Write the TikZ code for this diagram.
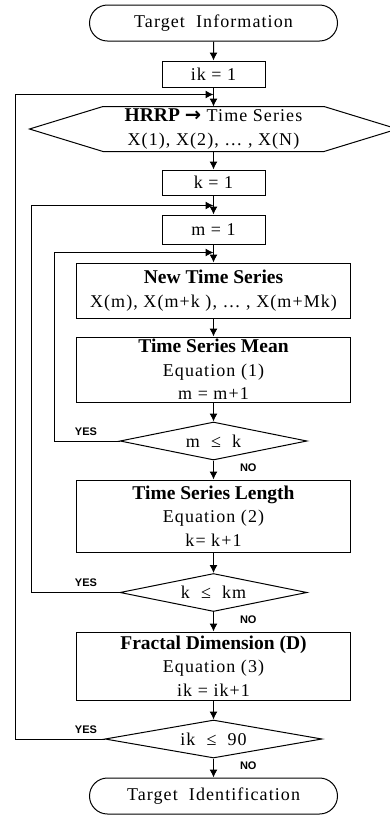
\documentclass[tikz,border=0pt]{standalone}
\usepackage{fontspec}
\setmainfont[LetterSpace=6,BoldFeatures={LetterSpace=0}]{Liberation Serif}
\newfontfamily\yesfont{Liberation Sans}
\newfontfamily\arrowfont{DejaVu Sans}
\usetikzlibrary{shapes.geometric, shapes.misc, positioning, arrows.meta}

\newcommand\hd[1]{{\fontsize{19.5}{23.5}\selectfont\bfseries #1}}

\tikzset{
  terminal/.style={draw, rounded rectangle, minimum width=248pt, minimum height=36pt, inner sep=0pt},
  smallbox/.style={draw, rectangle, minimum width=103pt, minimum height=27pt, inner sep=0pt},
  bigbox/.style={draw, rectangle, minimum width=274pt, align=center, inner sep=0pt},
  cond/.style={draw, diamond, aspect=4.9, minimum width=187pt, minimum height=38pt, inner sep=0pt},
  yesno/.style={font=\yesfont\bfseries\fontsize{11}{12}\selectfont, inner sep=0pt},
}

\begin{document}
\begin{tikzpicture}[x=1pt, y=1pt, node distance=50pt, on grid, line width=1pt,
    >={Latex[length=8pt,width=8pt]}, font=\fontsize{18}{23.5}\selectfont]
  \useasboundingbox (0,0) rectangle (390,-815);

  \node[terminal] (start) at (213.5,-23) {Target\ \ Information};
  \node[smallbox, minimum height=26pt] (ik1) [below=51pt of start] {ik = 1};
  \node[minimum width=220pt, minimum height=44pt, inner sep=0pt, align=center] (hrrp) [below=55pt of ik1]
    {\hd{HRRP {\arrowfont →}} Time Series\\X(1), X(2), … , X(N)};
  \node[smallbox, minimum height=25pt] (k1) [below=53.5pt of hrrp] {k = 1};
  \node[smallbox, minimum height=29pt] (m1) [below=47pt of k1] {m = 1};
  \node[bigbox, minimum height=55pt] (newts) [below=61pt of m1]
    {\hd{New Time Series}\\X(m), X(m+k ), … , X(m+Mk)};
  \node[bigbox, minimum height=65pt] (mean) [below=79pt of newts]
    {\hd{Time Series Mean}\\Equation (1)\\m = m+1};
  \node[cond] (mcond) [below=71.5pt of mean] {m\ \ ≤\ \ k};
  \node[bigbox, minimum height=72pt] (length) [below=75pt of mcond]
    {\hd{Time Series Length}\\Equation (2)\\k= k+1};
  \node[cond] (kcond) [below=76.5pt of length] {k\ \ ≤\ \ km};
  \node[bigbox, minimum height=68pt] (fractal) [below=73.5pt of kcond]
    {\hd{Fractal Dimension (D)}\\Equation (3)\\ik = ik+1};
  \node[cond, minimum width=217pt] (ikcond) [below=73pt of fractal] {ik\ \ ≤\ \ 90};
  \node[terminal] (stop) [below=57pt of ikcond] {Target\ \ Identification};

  % hexagon round the HRRP node
  \draw (hrrp.north west) -- (hrrp.north east) -- ([xshift=73.5pt]hrrp.east)
    -- (hrrp.south east) -- (hrrp.south west) -- ([xshift=-73.5pt]hrrp.west) -- cycle;

  \coordinate (j1) at ([yshift=12pt]hrrp.north);
  \coordinate (j2) at ([yshift=9pt]m1.north);
  \coordinate (j3) at ([yshift=10pt]newts.north);

  \path[->]
    (start) edge (ik1)
    (ik1) edge (hrrp)
    (hrrp) edge (k1)
    (k1) edge (m1)
    (m1) edge (newts)
    (newts) edge (mean)
    (mean) edge (mcond)
    (mcond) edge (length)
    (length) edge (kcond)
    (kcond) edge (fractal)
    (fractal) edge (ikcond)
    (ikcond) edge (stop);

  % loops back
  \draw[->] (mcond.west) -- ++(-65pt,0) |- (j3);
  \draw[->] (kcond.west) -- ++(-88pt,0) |- (j2);
  \draw[->] (ikcond.west) -- ++(-89pt,0) |- (j1);

  \node[yesno, anchor=south east] (yes1) at ([xshift=-22pt,yshift=5pt]mcond.west) {YES};
  \node[yesno, anchor=south east] (yes2) at ([xshift=-22pt,yshift=5pt]kcond.west) {YES};
  \node[yesno, anchor=south east] (yes3) at ([xshift=-7pt,yshift=5pt]ikcond.west) {YES};
  \node[yesno, anchor=north west] (no1) at ([xshift=26pt,yshift=-3pt]mcond.south) {NO};
  \node[yesno, anchor=north west] (no2) at ([xshift=26pt,yshift=-3pt]kcond.south) {NO};
  \node[yesno, anchor=north west] (no3) at ([xshift=26pt,yshift=-3pt]ikcond.south) {NO};
\end{tikzpicture}
\end{document}
